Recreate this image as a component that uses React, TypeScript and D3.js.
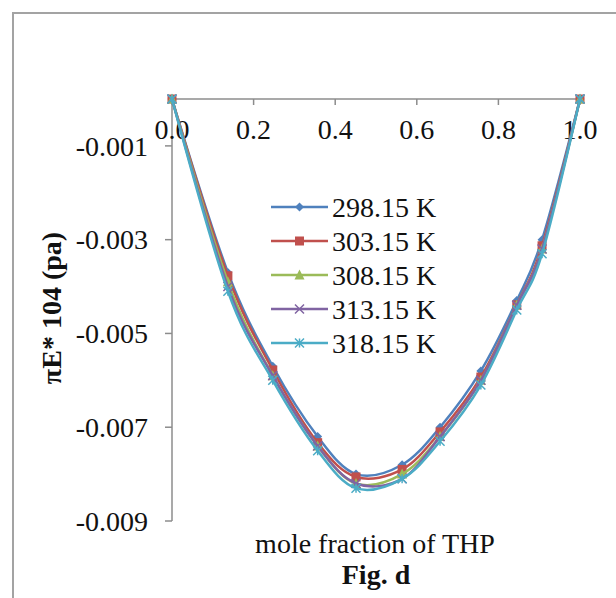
import React from "react";
import * as d3 from "d3";

const xValues = [0, 0.137, 0.247, 0.357, 0.451, 0.564, 0.657, 0.757, 0.845, 0.907, 1.0];
const seriesNames = ["298.15 K", "303.15 K", "308.15 K", "313.15 K", "318.15 K"];
const s298 = [0, -0.0037, -0.0057, -0.0072, -0.0080, -0.0078, -0.0070, -0.0058, -0.0043, -0.0030, 0];
const s303 = [0, -0.00377, -0.00578, -0.00733, -0.00806, -0.0079, -0.0071, -0.00593, -0.00439, -0.00313, 0];
const s308 = [0, -0.0039, -0.0059, -0.0074, -0.0082, -0.0080, -0.0072, -0.0060, -0.0044, -0.0032, 0];
const s313 = [0, -0.0040, -0.0059, -0.0074, -0.0082, -0.0081, -0.0072, -0.0060, -0.0044, -0.0032, 0];
const s318 = [0, -0.0041, -0.0060, -0.0075, -0.0083, -0.0081, -0.0073, -0.0061, -0.0045, -0.0033, 0];
const seriesValues = [s298, s303, s308, s313, s318];
const colors = ["#4F81BD", "#C0504D", "#9BBB59", "#8064A2", "#4BACC6"];
const markerTypes = ["diamond", "square", "triangle", "x", "star"];
const xTicks = [0, 0.2, 0.4, 0.6, 0.8, 1.0];
const yTicks = [-0.001, -0.003, -0.005, -0.007, -0.009];

const FONT = "'Liberation Serif', 'Times New Roman', serif";
const FS = 28;

function Marker({ type, x, y, color }: { type: string; x: number; y: number; color: string }) {
  const s = 4.5;
  if (type === "diamond") {
    return <path d={`M${x},${y - s}L${x + s},${y}L${x},${y + s}L${x - s},${y}Z`} fill={color} />;
  }
  if (type === "square") {
    return <rect x={x - s} y={y - s} width={2 * s} height={2 * s} fill={color} />;
  }
  if (type === "triangle") {
    return <path d={`M${x},${y - s - 1}L${x + s + 0.5},${y + s}L${x - s - 0.5},${y + s}Z`} fill={color} />;
  }
  if (type === "x") {
    return (
      <path d={`M${x - s},${y - s}L${x + s},${y + s}M${x + s},${y - s}L${x - s},${y + s}`} stroke={color} strokeWidth={1.5} />
    );
  }
  return (
    <path
      d={`M${x - s},${y - s}L${x + s},${y + s}M${x + s},${y - s}L${x - s},${y + s}M${x},${y - s}L${x},${y + s}`}
      stroke={color}
      strokeWidth={1.5}
    />
  );
}

export default function App() {
  const x = d3.scaleLinear().domain([0, 1]).range([172, 580]);
  const y = d3.scaleLinear().domain([-0.009, 0]).range([521, 99]);
  const line = d3
    .line<number>()
    .x((_, i) => x(xValues[i]))
    .y((d) => y(d))
    .curve(d3.curveCardinal.tension(0));

  const axisColor = "#8c8c8c";
  const legendX0 = 271;
  const legendX1 = 328;
  const legendY0 = 207;
  const legendStep = 34;

  return (
    <svg
      width={616}
      height={598}
      style={{ position: "absolute", left: 0, top: 0, background: "#fff" }}
      fontFamily={FONT}
    >
      <rect x={0} y={0} width={616} height={598} fill="#fff" />
      <rect x={13} y={13} width={700} height={700} fill="none" stroke="#a3a3a3" strokeWidth={2} />

      {/* axes */}
      <line x1={x(0)} x2={x(1)} y1={y(0)} y2={y(0)} stroke={axisColor} strokeWidth={1.5} />
      <line x1={x(0)} x2={x(0)} y1={y(0)} y2={y(-0.009)} stroke={axisColor} strokeWidth={1.5} />
      {xTicks.map((t) => (
        <g key={"xt" + t}>
          <line x1={x(t)} x2={x(t)} y1={y(0)} y2={y(0) + 6} stroke={axisColor} strokeWidth={1.5} />
          <text x={x(t)} y={139} textAnchor="middle" fontSize={FS} fill="#111">
            {t.toFixed(1)}
          </text>
        </g>
      ))}
      {yTicks.map((t) => (
        <g key={"yt" + t}>
          <line x1={x(0) - 7} x2={x(0)} y1={y(t)} y2={y(t)} stroke={axisColor} strokeWidth={1.5} />
          <text x={148} y={y(t)} dy="0.35em" textAnchor="end" fontSize={FS} fill="#111">
            {t.toFixed(3)}
          </text>
        </g>
      ))}

      {/* series */}
      {seriesValues.map((vals, si) => (
        <g key={"s" + si}>
          <path d={line(vals) || ""} fill="none" stroke={colors[si]} strokeWidth={2.5} />
          {vals.map((v, i) => (
            <Marker key={i} type={markerTypes[si]} x={x(xValues[i])} y={y(v)} color={colors[si]} />
          ))}
        </g>
      ))}

      {/* legend */}
      {seriesNames.map((name, si) => {
        const ly = legendY0 + si * legendStep;
        return (
          <g key={"l" + si}>
            <line x1={legendX0} x2={legendX1} y1={ly} y2={ly} stroke={colors[si]} strokeWidth={2.5} />
            <Marker type={markerTypes[si]} x={(legendX0 + legendX1) / 2} y={ly} color={colors[si]} />
            <text x={332} y={ly} dy="0.35em" fontSize={FS} fill="#111">
              {name}
            </text>
          </g>
        );
      })}

      {/* titles */}
      <text x={375} y={553} textAnchor="middle" fontSize={FS} fill="#111">
        mole fraction of THP
      </text>
      <text x={376} y={584} textAnchor="middle" fontSize={FS} fontWeight="bold" fill="#111">
        Fig. d
      </text>
      <text
        transform="translate(61,308) rotate(-90)"
        textAnchor="middle"
        fontSize={FS}
        fontWeight="bold"
        fill="#111"
      >
        πE* 104 (pa)
      </text>
    </svg>
  );
}
